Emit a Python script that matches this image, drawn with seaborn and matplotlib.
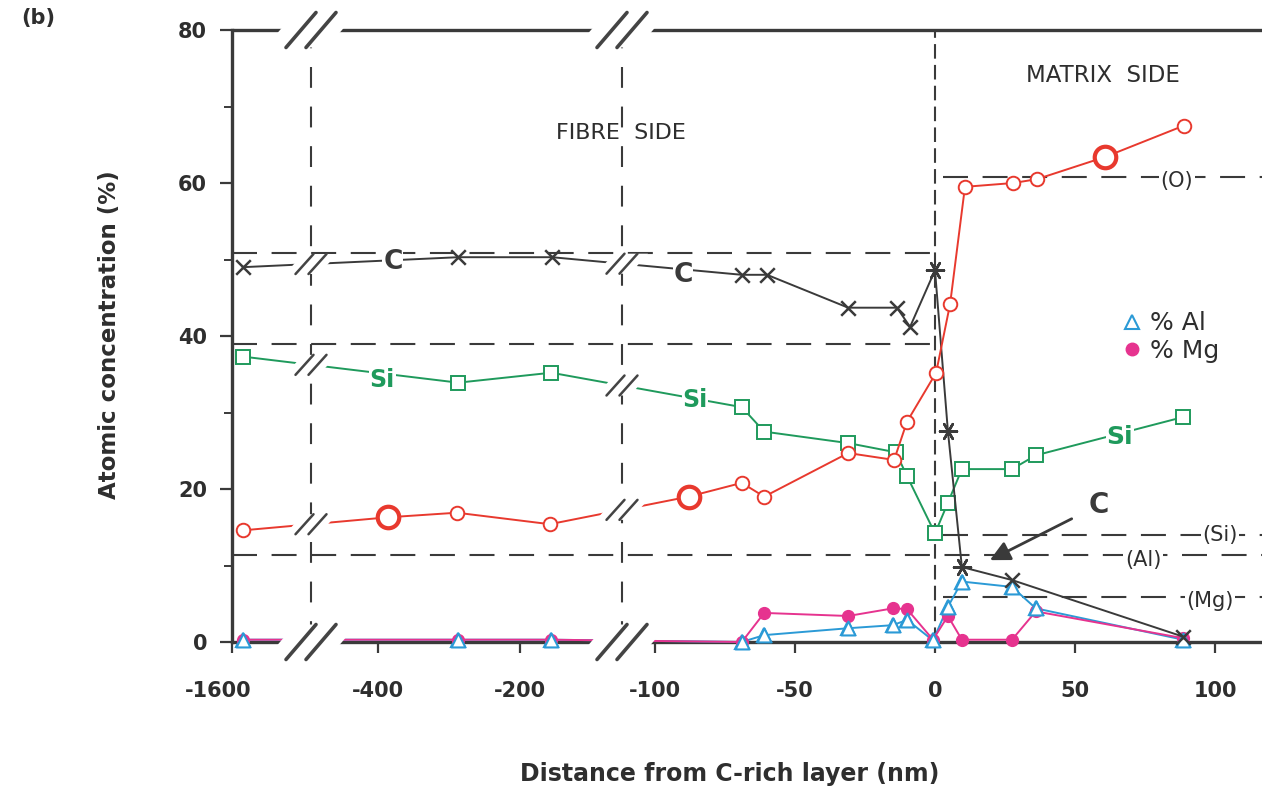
import numpy as np
import pandas as pd
import matplotlib
matplotlib.use('Agg')
import matplotlib.pyplot as plt
import matplotlib.transforms as mtrans
import seaborn as sns
from matplotlib.patches import Polygon
from matplotlib.lines import Line2D

# ---- values (x in nm, y in at.%) ----
c_x = [-1584, -287, -155, -69, -60, -31, -13.6, -8.9, 0, 4.6, 9.6, 27.5, 88.6]
c_y = [49.0, 50.3, 50.3, 48.0, 48.0, 43.7, 43.7, 41.2, 48.6, 27.6, 9.8, 8.1, 0.7]
c_star = [0, 4.6, 9.6]          # points drawn as asterisks

si_x = [-1584, -287, -156, -69, -61, -31, -14, -10, 0, 4.6, 9.6, 27.5, 36, 88.6]
si_y = [37.3, 33.9, 35.2, 30.7, 27.5, 26.0, 24.8, 21.7, 14.2, 18.2, 22.6, 22.6, 24.4, 29.4]

o_x = [-1584, -386, -289, -158, -88, -69, -61, -31, -14.6, -10, 0.4, 5.4, 10.7, 28, 36.4, 60.7, 88.9]
o_y = [14.6, 16.3, 16.9, 15.4, 19.0, 20.8, 19.0, 24.7, 23.8, 28.8, 35.2, 44.2, 59.5, 60.0, 60.5, 63.4, 67.5]
o_big = [-386, -88, 60.7]       # the bold circles

al_x = [-1584, -287, -156, -69, -61, -31, -15, -10, -0.7, 4.6, 9.6, 27.5, 36, 88.6]
al_y = [0.3, 0.3, 0.3, 0.0, 0.9, 1.8, 2.2, 2.9, 0.2, 4.6, 7.9, 7.2, 4.4, 0.3]

mg_x = [-1584, -287, -156, -69, -61, -31, -15, -10, -0.7, 4.6, 9.6, 27.5, 36, 88.6]
mg_y = [0.3, 0.3, 0.3, 0.0, 3.8, 3.4, 4.4, 4.3, 0.3, 3.4, 0.3, 0.3, 4.0, 0.5]

fibre_levels = [50.8, 38.9]     # C and Si bulk levels, fibre side
al_level = 11.4
matrix_levels = {'(O)': 60.8, '(Si)': 14.0, '(Mg)': 5.9}

xticks = [-1600, -400, -200, -100, -50, 0, 50, 100]
xticklabels = ['-1600', '-400', '-200', '-100', '-50', '0', '50', '100']

C_COL = '#3a3a3a'
SI_COL = '#1f9a5c'
O_COL = '#e8392e'
AL_COL = '#2b9ad6'
MG_COL = '#e6338f'
TXT = '#2e2e2e'


def to_u(x):
    # broken axis: two compressed segments on the left, linear from -100 nm
    x = np.asarray(x, dtype=float)
    return np.where(x < -1000, 232 + 0.71 * (x + 1600),
                    np.where(x < -120, 378 + 0.71 * (x + 400), 935 + 2.8 * x))


sns.set_style('white')
plt.rcParams['font.family'] = ['DejaVu Sans']

fig = plt.figure(figsize=(12.62, 7.9), dpi=100)
ax = fig.add_axes([232 / 1262, 148 / 790, 1030 / 1262, 612 / 790])
ax.set_xlim(232, 1262)
ax.set_ylim(0, 80)
YPX = 612 / 80  # pixels per unit in y

# reference dashed lines
dash_kw = dict(color=C_COL, lw=1.5, zorder=1)
ax.hlines(fibre_levels, to_u(-1600), to_u(-1), linestyles=[(0, (12, 7))], **dash_kw)
ax.hlines(al_level, to_u(-1600), 1262, linestyles=[(0, (12, 7))], **dash_kw)
ax.hlines(list(matrix_levels.values()), to_u(3), 1262, linestyles=[(0, (12, 7))], **dash_kw)
ax.vlines([311, 622], 0, 80, linestyles=[(0, (10, 9))], **dash_kw)
ax.vlines(to_u(0), 0, 80, linestyles=[(0, (7, 3))], **dash_kw)

# axis lines (top and bottom drawn by hand because of the breaks)
ax.axhline(0, color=C_COL, lw=2.4, zorder=1.5, clip_on=False)
ax.axhline(80, color=C_COL, lw=2.4, zorder=1.5, clip_on=False)

# series
line_kw = dict(estimator=None, sort=False, ax=ax, lw=1.4, clip_on=False)
sns.lineplot(x=to_u(al_x), y=al_y, color=AL_COL, marker='^', ms=10, mfc='white',
             mec=AL_COL, mew=1.5, zorder=3, **line_kw)
sns.lineplot(x=to_u(mg_x), y=mg_y, color=MG_COL, marker='o', ms=8.5, mfc=MG_COL,
             mec=MG_COL, mew=1, zorder=3.1, **line_kw)
# triangles on top of the Mg dots where they coincide
sns.scatterplot(x=to_u(al_x), y=al_y, marker='^', s=100, color='white', edgecolor=AL_COL,
                linewidth=1.5, zorder=3.2, ax=ax, clip_on=False)
sns.lineplot(x=to_u(si_x), y=si_y, color=SI_COL, marker='s', ms=10, mfc='white',
             mec=SI_COL, mew=1.4, zorder=3.1, **line_kw)
sns.lineplot(x=to_u(c_x), y=c_y, color=C_COL, zorder=3.3, **line_kw)
sns.lineplot(x=to_u(o_x), y=o_y, color=O_COL, zorder=3.4, **line_kw)

cdf = pd.DataFrame({'u': to_u(c_x), 'y': c_y, 'star': np.isin(c_x, c_star)})
sns.scatterplot(data=cdf[~cdf.star], x='u', y='y', marker='x', s=110, color=C_COL,
                linewidth=1.8, zorder=3.5, ax=ax, clip_on=False)
sns.scatterplot(data=cdf[cdf.star], x='u', y='y', marker=(6, 2, 90), s=150, color=C_COL,
                linewidth=1.8, zorder=3.5, ax=ax, clip_on=False)

odf = pd.DataFrame({'u': to_u(o_x), 'y': o_y, 'big': np.isin(o_x, o_big)})
sns.scatterplot(data=odf[~odf.big], x='u', y='y', marker='o', s=95, color='white',
                edgecolor=O_COL, linewidth=1.4, zorder=3.6, ax=ax, clip_on=False)
sns.scatterplot(data=odf[odf.big], x='u', y='y', marker='o', s=240, color='white',
                edgecolor=O_COL, linewidth=3, zorder=3.6, ax=ax, clip_on=False)


def draw_break(u, y, half, gap, sep, lw):
    hx, hy = half
    hy = hy / YPX
    poly = [(u - gap / 2 - hx, y - hy), (u + gap / 2 - hx, y - hy),
            (u + gap / 2 + hx, y + hy), (u - gap / 2 + hx, y + hy)]
    ax.add_patch(Polygon(poly, closed=True, fc='white', ec='none', zorder=4, clip_on=False))
    for d in (-sep / 2, sep / 2):
        ax.plot([u + d - hx, u + d + hx], [y - hy, y + hy], color='#444444', lw=lw,
                solid_capstyle='round', zorder=5, clip_on=False)


for ub in (311, 622):
    draw_break(ub, 0, (15, 17.5), 62, 20, 2.6)
    draw_break(ub, 80, (15, 17.5), 62, 20, 2.6)
    for sx, sy in ((c_x, c_y), (si_x, si_y), (o_x, o_y)):
        yb = np.interp(ub, to_u(sx), sy)
        draw_break(ub, yb, (9, 10), 34, 13, 1.8)

# labels sitting on the curves
lab_kw = dict(ha='center', va='center', zorder=6, fontweight='bold',
              bbox=dict(fc='white', ec='none', pad=0.5))
ax.text(to_u(-379), 49.7, 'C', color=C_COL, fontsize=19, **lab_kw)
ax.text(to_u(-394), 34.3, 'Si', color=SI_COL, fontsize=17, **lab_kw)
ax.text(to_u(-90), 48.0, 'C', color=C_COL, fontsize=19, **lab_kw)
ax.text(to_u(-85.7), 31.6, 'Si', color=SI_COL, fontsize=17, **lab_kw)
ax.text(to_u(66), 26.8, 'Si', color=SI_COL, fontsize=18, **lab_kw)

ax.annotate('C', xy=(to_u(19.6), 10.7), xytext=(to_u(58.5), 17.9), color=C_COL,
            fontsize=20, fontweight='bold', ha='center', va='center', zorder=6,
            arrowprops=dict(arrowstyle='-|>', color=C_COL, lw=2, mutation_scale=30,
                            shrinkA=11, shrinkB=0))

lvl_kw = dict(ha='center', va='center', color=TXT, fontsize=15, zorder=6,
              bbox=dict(fc='white', ec='none', pad=1))
ax.text(to_u(86.4), 60.3, '(O)', **lvl_kw)
ax.text(to_u(101.8), 14.0, '(Si)', **lvl_kw)
ax.text(to_u(74.3), 10.7, '(Al)', **lvl_kw)
ax.text(to_u(98.2), 5.3, '(Mg)', **lvl_kw)

ax.text(to_u(-112), 66.5, 'FIBRE  SIDE', ha='center', va='center', color=TXT, fontsize=16)
ax.text(to_u(60), 74.0, 'MATRIX  SIDE', ha='center', va='center', color=TXT, fontsize=16.5)

handles = [Line2D([], [], ls='none', marker='^', ms=10, mfc='white', mec=AL_COL, mew=1.5),
           Line2D([], [], ls='none', marker='o', ms=9, mfc=MG_COL, mec=MG_COL)]
ax.legend(handles, ['% Al', '% Mg'], loc='upper left', bbox_to_anchor=(0.84, 0.577),
          frameon=False, fontsize=18, handletextpad=0.2, labelspacing=0.15,
          handlelength=1.0, labelcolor=TXT)

# axes, ticks, labels
for s in ('top', 'right', 'bottom'):
    ax.spines[s].set_visible(False)
ax.spines['left'].set_color(C_COL)
ax.spines['left'].set_linewidth(2.4)

ax.set_xticks(to_u(xticks))
ax.set_xticklabels(xticklabels)
ax.set_yticks([0, 20, 40, 60, 80])
ax.set_yticks([10, 30, 50, 70], minor=True)
ax.tick_params(axis='x', which='major', direction='out', length=8, width=1.6, pad=20,
               labelsize=15, colors=C_COL, bottom=True)
ax.tick_params(axis='y', which='major', direction='out', length=9, width=1.6, pad=9,
               labelsize=15, colors=C_COL, left=True)
ax.tick_params(axis='y', which='minor', direction='out', length=6, width=1.4, left=True,
               colors=C_COL)
for t in ax.get_xticklabels() + ax.get_yticklabels():
    t.set_fontweight('bold')
    t.set_color(TXT)
# the first label sits a little left of the axis corner in the original
first = ax.get_xticklabels()[0]
first.set_transform(first.get_transform() + mtrans.ScaledTranslation(-0.14, 0, fig.dpi_scale_trans))

ax.set_xlabel('Distance from C-rich layer (nm)', fontsize=17, fontweight='bold', color=TXT)
ax.set_ylabel('Atomic concentration (%)', fontsize=16.5, fontweight='bold', color=TXT)
ax.xaxis.set_label_coords(0.4835, -0.196)
ax.yaxis.set_label_coords(-0.108, 0.5016)

fig.text(0.017, 1 - 18 / 790, '(b)', fontsize=15, fontweight='bold', color=TXT, va='center')

fig.savefig('out.png', dpi=100)
